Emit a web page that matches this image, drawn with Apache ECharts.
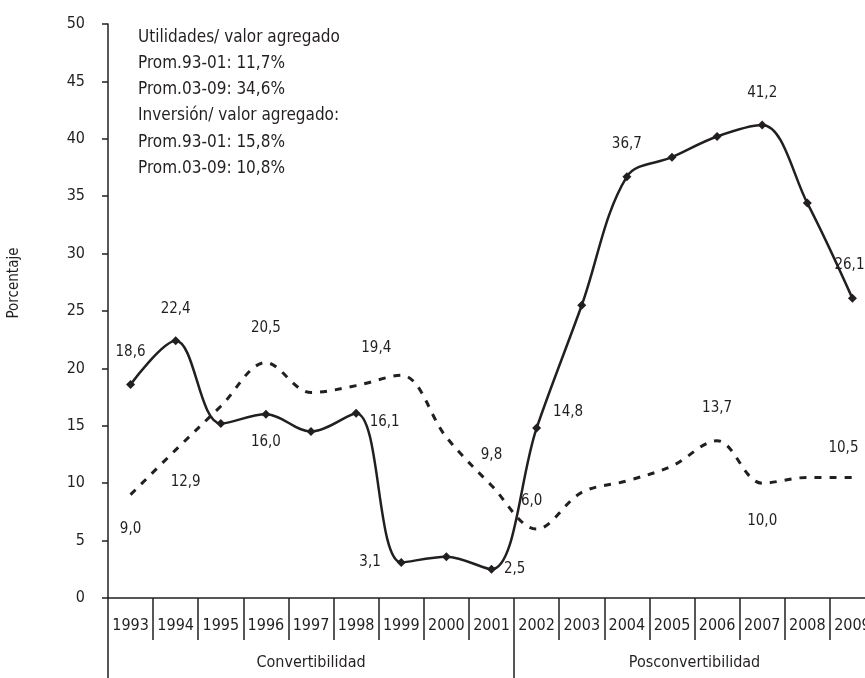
<!DOCTYPE html>
<html>
<head>
<meta charset="utf-8">
<script src="https://cdn.jsdelivr.net/npm/echarts@6/dist/echarts.min.js"></script>
<style>
html,body{margin:0;padding:0;background:#fff;}
#chart{width:865px;height:678px;}
</style>
</head>
<body>
<div id="chart"></div>
<script>
// ---- data ----
const years = ['1993','1994','1995','1996','1997','1998','1999','2000','2001','2002','2003','2004','2005','2006','2007','2008','2009'];
const utilidades = [18.6, 22.4, 15.2, 16.0, 14.5, 16.1, 3.1, 3.6, 2.5, 14.8, 25.5, 36.7, 38.4, 40.2, 41.2, 34.4, 26.1];
const inversion = [9.0, 12.9, 16.7, 20.5, 17.9, 18.5, 19.4, 14.0, 9.8, 6.0, 9.2, 10.2, 11.5, 13.7, 10.0, 10.5, 10.5];
const periods = ['Convertibilidad', 'Posconvertibilidad'];
const periodYears = [9, 8];
const yMin = 0, yMax = 50, yStep = 5;
const yName = 'Porcentaje';
const headerLines = [
  'Utilidades/ valor agregado',
  'Prom.93-01: 11,7%',
  'Prom.03-09: 34,6%',
  'Inversión/ valor agregado:',
  'Prom.93-01: 15,8%',
  'Prom.03-09: 10,8%'
];

// ---- label placement (which points carry a value label) ----
const utilLabelSpec = {
  0: {pos:'top', d:20}, 1: {pos:'top', d:20}, 3: {pos:'bottom', d:16},
  5: {pos:'right', d:9, off:[0,9]}, 6: {pos:'left', d:16}, 8: {pos:'right', d:8},
  9: {pos:'right', d:12, off:[0,-16]}, 11: {pos:'top', d:21}, 14: {pos:'top', d:20},
  16: {pos:'top', d:21, off:[-3,0]}
};
const invLabelSpec = {
  0: {pos:'bottom', d:26}, 1: {pos:'bottom', d:24, off:[10,0]}, 3: {pos:'top', d:27},
  6: {pos:'top', d:19, off:[-25,0]}, 8: {pos:'top', d:22}, 9: {pos:'top', d:20, off:[-5,0]},
  13: {pos:'top', d:25}, 14: {pos:'bottom', d:30}, 16: {pos:'top', d:21, off:[-9,0]}
};

const FONT = "'Liberation Sans Narrow', 'DejaVu Sans Condensed', sans-serif";
const INK = '#231f20';
const fmt = v => v.toFixed(1).replace('.', ',');

function buildData(values, spec) {
  return values.map((v, i) => {
    const s = spec[i];
    if (!s) return v;
    return {
      value: v,
      label: {
        show: true, position: s.pos, distance: s.d, offset: s.off || [0,0],
        formatter: p => fmt(p.value), fontFamily: FONT, fontSize: 15, color: INK
      }
    };
  });
}

// period boundaries / centers on a continuous 0..N scale
const bounds = [0];
periodYears.forEach(n => bounds.push(bounds[bounds.length-1] + n));
const centers = periodYears.map((n, i) => bounds[i] + n / 2);

const chart = echarts.init(document.getElementById('chart'), null, {renderer:'canvas'});
chart.setOption({
  animation: false,
  backgroundColor: '#fff',
  textStyle: {fontFamily: FONT, color: INK},
  title: {
    text: headerLines.join('\n'),
    left: 133, top: 19,
    textStyle: {fontFamily: FONT, fontSize: 17, fontWeight: 'normal', color: INK, lineHeight: 26.3}
  },
  grid: {left: 108, width: 767, top: 24, bottom: 80, containLabel: false, outerBoundsMode: 'none'},
  xAxis: [
    {
      type: 'category', data: years, boundaryGap: true,
      axisLine: {show: true, lineStyle: {color: INK, width: 1.5}},
      axisTick: {show: true, interval: 0, length: 42, lineStyle: {color: INK, width: 1.5}},
      axisLabel: {interval: 0, margin: 20, fontFamily: FONT, fontSize: 16, color: INK},
      splitLine: {show: false}
    },
    {
      type: 'value', min: 0, max: years.length, position: 'bottom',
      axisLine: {show: false},
      axisTick: {show: true, customValues: bounds.slice(0, -1), length: 80, lineStyle: {color: INK, width: 1.5}},
      axisLabel: {
        show: true, customValues: centers, margin: 57,
        formatter: v => { const k = centers.indexOf(v); return k >= 0 ? periods[k] : ''; },
        fontFamily: FONT, fontSize: 16, color: INK
      },
      splitLine: {show: false}
    }
  ],
  yAxis: {
    type: 'value', min: yMin, max: yMax, interval: yStep,
    name: yName, nameLocation: 'middle', nameGap: 86, nameRotate: 90,
    nameTextStyle: {fontFamily: FONT, fontSize: 15, color: INK, padding: [0,0,0,56]},
    axisLine: {show: true, lineStyle: {color: INK, width: 1.5}},
    axisTick: {show: true, length: 6, lineStyle: {color: INK, width: 1.5}},
    axisLabel: {margin: 23, fontFamily: FONT, fontSize: 16, color: INK},
    splitLine: {show: false}
  },
  series: [
    {
      name: 'Inversión/ valor agregado', type: 'line', xAxisIndex: 0,
      data: buildData(inversion, invLabelSpec),
      smooth: 0.35, symbol: 'circle', symbolSize: 1, showSymbol: true,
      itemStyle: {color: 'rgba(0,0,0,0)'},
      lineStyle: {color: INK, width: 3, type: [7, 8]},
      z: 2
    },
    {
      name: 'Utilidades/ valor agregado', type: 'line', xAxisIndex: 0,
      data: buildData(utilidades, utilLabelSpec),
      smooth: 0.35, symbol: 'diamond', symbolSize: 9, showSymbol: true,
      itemStyle: {color: INK},
      lineStyle: {color: INK, width: 2.5},
      z: 3
    }
  ]
});
</script>
</body>
</html>
